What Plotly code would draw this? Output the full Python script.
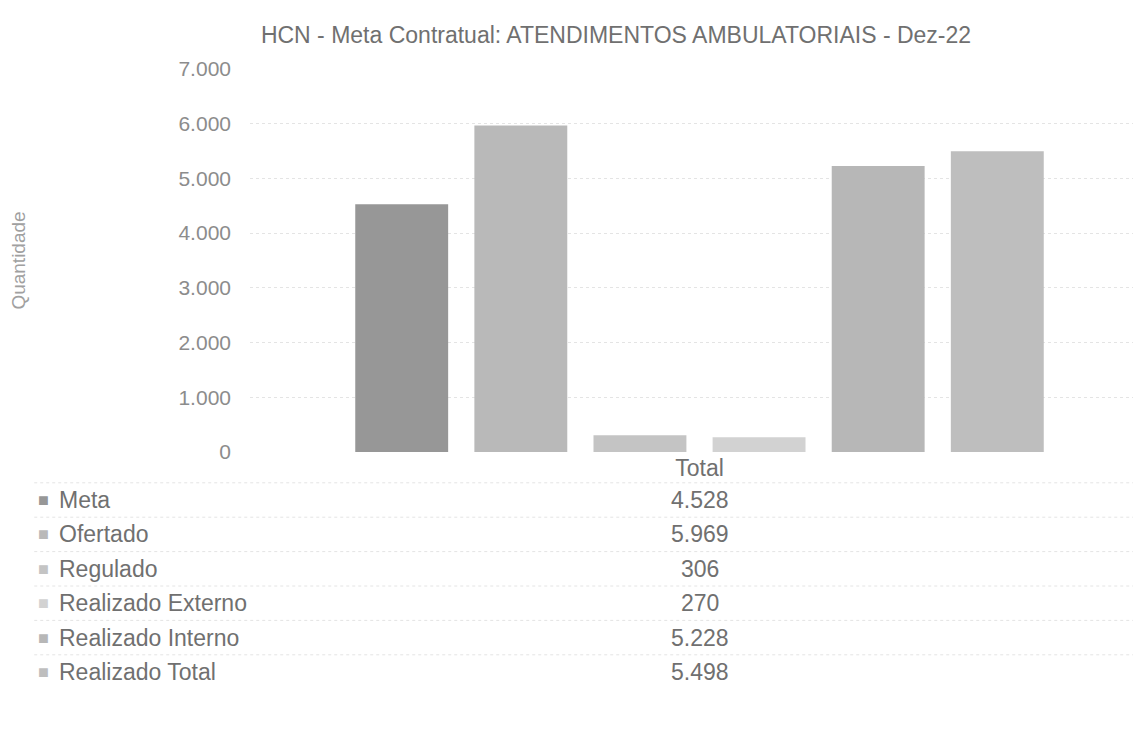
import plotly.graph_objects as go

# --- data -------------------------------------------------------------------
category = ["Total"]
series_names = [
    "Meta",
    "Ofertado",
    "Regulado",
    "Realizado Externo",
    "Realizado Interno",
    "Realizado Total",
]
series_values = [4528, 5969, 306, 270, 5228, 5498]
y_ticks = [0, 1000, 2000, 3000, 4000, 5000, 6000, 7000]
y_tick_text = ["0", "1.000", "2.000", "3.000", "4.000", "5.000", "6.000", "7.000"]

title_text = "HCN - Meta Contratual: ATENDIMENTOS AMBULATORIAIS - Dez-22"

# --- look -------------------------------------------------------------------
FONT = "Liberation Sans, Arial, sans-serif"
BAR_COLORS = ["#979797", "#b9b9b9", "#c4c4c4", "#d2d2d2", "#b7b7b7", "#bebebe"]
TEXT = "#707070"
TICK_TEXT = "#8c8c8c"
GRID = "#e4e4e4"

W, H = 1141, 751
M_L, M_R, M_T, M_B = 242, 0, 61, 307
PLOT_H = H - M_T - M_B
BODY = 8  # page offset of the figure (default html body margin)


def _fmt(v: int) -> str:
    """Brazilian thousands separator: 4528 -> '4.528'."""
    return f"{v:,}".replace(",", ".")


def _paper_y(page_px: float) -> float:
    """Pixel row on the page (from top) -> paper y coordinate."""
    return (H - M_B - (page_px - BODY)) / PLOT_H


fig = go.Figure()
for name, val, color in zip(series_names, series_values, BAR_COLORS):
    fig.add_trace(
        go.Bar(
            x=category,
            y=[val],
            name=name,
            marker=dict(color=color, line_width=0),
            showlegend=False,
        )
    )

fig.update_layout(
    width=W,
    height=H,
    barmode="group",
    bargap=0.205,
    bargroupgap=0.22,
    paper_bgcolor="white",
    plot_bgcolor="white",
    font=dict(family=FONT, color=TEXT, size=22),
    margin=dict(l=M_L, r=M_R, t=M_T, b=M_B),
    title=dict(
        text=title_text,
        font=dict(family=FONT, size=23, color=TEXT),
        x=(616 - BODY) / W,
        xanchor="center",
        y=1 - (35 - BODY) / H,
        yanchor="middle",
    ),
)

fig.update_yaxes(
    range=[0, 7000],
    tickvals=y_ticks,
    ticktext=y_tick_text,
    tickfont=dict(size=21, color=TICK_TEXT),
    ticklabelstandoff=18,
    showgrid=True,
    gridcolor=GRID,
    griddash="dot",
    zeroline=False,
    showline=False,
    title=dict(text="Quantidade", font=dict(size=19, color="#a0a0a0"), standoff=149),
)
fig.update_xaxes(
    tickfont=dict(size=23, color=TEXT),
    showline=False,
    showgrid=False,
    ticks="",
)

# --- data table under the plot ----------------------------------------------
row0, row_step = 500, 34.4
for i, (name, val, color) in enumerate(zip(series_names, series_values, BAR_COLORS)):
    yp = _paper_y(row0 + i * row_step)
    # legend key square
    fig.add_annotation(
        x=0, xref="paper", xshift=-(M_L - (43 - BODY)),
        y=yp, yref="paper",
        text="■", showarrow=False,
        font=dict(size=18, color=color),
        xanchor="center", yanchor="middle",
    )
    fig.add_annotation(
        x=0, xref="paper", xshift=-(M_L - (57 - BODY)),
        y=yp, yref="paper",
        text=name, showarrow=False,
        font=dict(size=23, color=TEXT),
        xanchor="left", yanchor="middle",
    )
    fig.add_annotation(
        x=category[0], xref="x",
        y=yp, yref="paper",
        text=_fmt(val), showarrow=False,
        font=dict(size=23, color=TEXT),
        xanchor="center", yanchor="middle",
    )
    # faint dotted row separator, like the scanned table borders
    sep = _paper_y(row0 + (i - 0.5) * row_step)
    fig.add_shape(
        type="line", xref="paper", yref="paper",
        x0=-0.24, x1=1, y0=sep, y1=sep,
        line=dict(color=GRID, width=1, dash="dot"),
    )

fig.write_html("out.html")
